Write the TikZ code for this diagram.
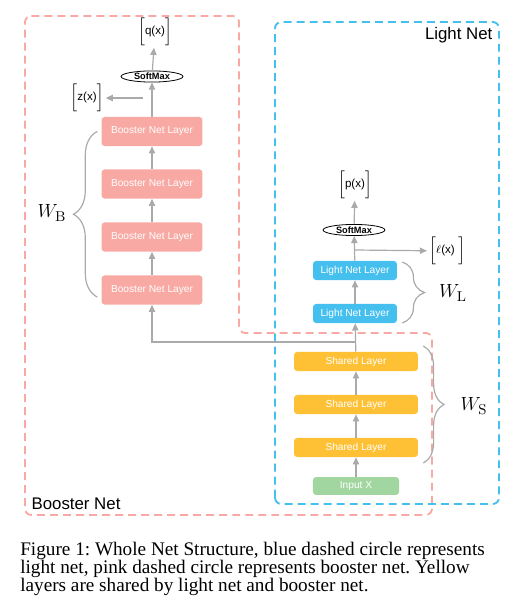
\documentclass[tikz,border=0pt]{standalone}
\usepackage[no-math]{fontspec}
\setmainfont{Liberation Serif}
\setsansfont{Liberation Sans}
\usepackage{amsmath}
\usetikzlibrary{arrows.meta,shapes,positioning,decorations.pathreplacing,calc}
\definecolor{boosterpink}{RGB}{248,169,163}
\definecolor{lightblue}{RGB}{69,191,238}
\definecolor{sharedyellow}{RGB}{254,193,54}
\definecolor{inputgreen}{RGB}{162,214,160}
\definecolor{flowgray}{RGB}{170,170,170}
\tikzstyle{layer}=[rounded corners=2pt,inner sep=0pt,text=white,font=\sffamily\fontsize{6.4}{7}\selectfont]
\tikzstyle{booster layer}=[layer,fill=boosterpink,minimum width=63.6pt,minimum height=18.3pt]
\tikzstyle{light layer}=[layer,fill=lightblue,minimum width=52.9pt,minimum height=12pt]
\tikzstyle{shared layer}=[layer,fill=sharedyellow,minimum width=78.1pt,minimum height=12pt]
\tikzstyle{input layer}=[layer,fill=inputgreen,minimum width=54.2pt,minimum height=11.3pt]
\tikzstyle{softmax}=[ellipse,draw=black,line width=0.5pt,fill=white,inner sep=0pt,minimum width=39pt,minimum height=7pt,font=\sffamily\bfseries\fontsize{5.8}{6}\selectfont]
\tikzstyle{output}=[inner sep=1pt,font=\sffamily\fontsize{7.3}{8}\selectfont]
\tikzstyle{flow}=[draw=flowgray,line width=0.75pt,-{Triangle[length=4.5pt,width=4pt]}]
\tikzstyle{brace}=[draw=flowgray,line width=0.75pt,decorate]
\tikzstyle{weight}=[font=\fontsize{13}{15}\selectfont]
\tikzstyle{net name}=[font=\sffamily\fontsize{10.6}{12}\selectfont]
\tikzstyle{caption}=[anchor=base west,inner sep=0pt,font=\fontsize{12.1}{12}\selectfont]
\frenchspacing

\begin{document}
\begin{tikzpicture}[x=0.63pt,y=0.63pt]
  \useasboundingbox (0,0) rectangle (507,610);
  % outlines of the two nets
  \draw[boosterpink,line width=1.2pt,dash pattern=on 5pt off 3.2pt,rounded corners=4pt]
    (25,594) -- (239,594) -- (239,277) -- (432,277) -- (432,95) -- (25,95) -- cycle;
  \draw[lightblue,line width=1.2pt,dash pattern=on 5pt off 3.2pt,rounded corners=4pt]
    (275,106) rectangle (499,588);
  \node[net name,anchor=west] (boosterName) at (26,106) {Booster Net};
  \node[net name,anchor=east] (lightName) at (498,575) {Light Net};

  % shared part
  \node[input layer] (inputX) at (356,124) {Input X};
  \node[shared layer] (sh1) at (356,162.5) {Shared Layer};
  \node[shared layer] (sh2) at (356,205.5) {Shared Layer};
  \node[shared layer] (sh3) at (356,248.5) {Shared Layer};
  \draw[flow] (inputX) -- (sh1);
  \draw[flow] (sh1) -- (sh2);
  \draw[flow] (sh2) -- (sh3);

  % light net
  \node[light layer] (ln1) at (355,296.5) {Light Net Layer};
  \node[light layer] (ln2) at (355,339.5) {Light Net Layer};
  \node[softmax] (lsoft) at (354,380) {SoftMax};
  \node[output] (px) at (355,425) {$\biggl[\text{p(x)}\biggr]$};
  \node[output] (lx) at (447,359) {$\biggl[\ell\text{(x)}\ \biggr]$};
  \coordinate (lsplit) at (355,360);
  \draw[flow] (sh3) -- (ln1);
  \draw[flow] (ln1) -- (ln2);
  \draw[flow] (ln2) -- (lsoft);
  \draw[flow] (lsoft) -- (px);
  \draw[flow] (lsplit) -- (lx);

  % booster net
  \node[booster layer] (bl1) at (152,320) {Booster Net Layer};
  \node[booster layer] (bl2) at (152,373) {Booster Net Layer};
  \node[booster layer] (bl3) at (152,426) {Booster Net Layer};
  \node[booster layer] (bl4) at (152,478.5) {Booster Net Layer};
  \node[softmax] (bsoft) at (152,533.5) {SoftMax};
  \node[output] (qx) at (155,578) {$\biggl[\text{q(x)}\biggr]$};
  \node[output] (zx) at (87,512) {$\biggl[\text{z(x)}\biggr]$};
  \coordinate (split) at (356,268);
  \coordinate (zsplit) at (143,512);
  \draw[flow] (split) -| (bl1);
  \draw[flow] (bl1) -- (bl2);
  \draw[flow] (bl2) -- (bl3);
  \draw[flow] (bl3) -- (bl4);
  \draw[flow] (bl4) -- (bsoft);
  \draw[flow] (bsoft) -- (qx);
  \draw[flow] (zsplit) -- (zx);

  % weights
  \draw[brace,decoration={brace,amplitude=15pt}] ($(bl1.west)+(-4,-7)$) -- ($(bl4.west)+(-4,0)$);
  \draw[brace,decoration={brace,amplitude=14pt}] ($(ln2.east)+(5,8.5)$) -- ($(ln1.east)+(5,-9.5)$);
  \draw[brace,decoration={brace,amplitude=13pt}] ($(sh3.east)+(5,15.5)$) -- ($(sh1.east)+(5,-15.5)$);
  \node[weight] (wB) at (52,397) {$W_\mathrm{B}$};
  \node[weight] (wL) at (453,317) {$W_\mathrm{L}$};
  \node[weight] (wS) at (474,204) {$W_\mathrm{S}$};

  % caption
  \node[caption] (cap1) at (20,55) {Figure 1: Whole Net Structure, blue dashed circle represents};
  \node[caption] (cap2) at (20,36.5) {light net, pink dashed circle represents booster net. Yellow};
  \node[caption] (cap3) at (20,18) {layers are shared by light net and booster net.};
\end{tikzpicture}
\end{document}
